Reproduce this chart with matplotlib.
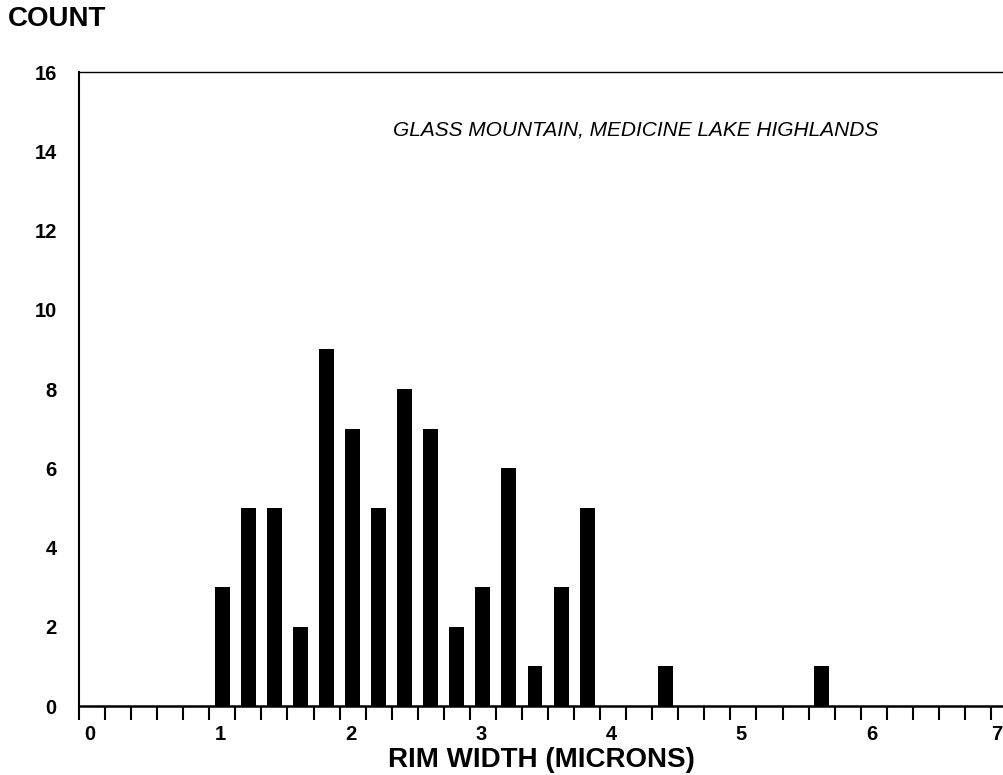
import matplotlib
matplotlib.use("Agg")
import matplotlib.pyplot as plt
import matplotlib.transforms as mtransforms
import numpy as np

# bin centres (microns) and counts
rim_width = [1.1, 1.3, 1.5, 1.7, 1.9, 2.1, 2.3, 2.5, 2.7, 2.9,
             3.1, 3.3, 3.5, 3.7, 3.9, 4.5, 5.7]
counts = [3, 5, 5, 2, 9, 7, 5, 8, 7, 2,
          3, 6, 1, 3, 5, 1, 1]

x_labels = ["0", "1", "2", "3", "4", "5", "6", "7"]
y_ticks = [0, 2, 4, 6, 8, 10, 12, 14, 16]

plt.rcParams['font.family'] = ['Liberation Sans', 'DejaVu Sans']

fig = plt.figure(figsize=(10.04, 7.75), dpi=100)
ax = fig.add_axes([0.0787, 0.089, 0.9213, 0.818])

ax.bar(rim_width, counts, width=0.115, color='black', align='center')

ax.set_xlim(0, 7.1)
ax.set_ylim(0, 16)

ax.set_xticks(range(len(x_labels)))
ax.set_xticklabels(x_labels, fontsize=14.5, fontweight='bold')
ax.set_xticks(np.arange(0, 7.01, 0.2), minor=True)
ax.tick_params(axis='x', which='both', direction='out', length=10, width=1.5, pad=4)

# labels in the scan sit a bit to the right of their ticks
labels = ax.get_xticklabels()
for i, lab in enumerate(labels):
    shift = 11 if i < len(labels) - 1 else 6
    offset = mtransforms.ScaledTranslation(shift / 100, 0, fig.dpi_scale_trans)
    lab.set_transform(lab.get_transform() + offset)

ax.set_yticks(y_ticks)
ax.set_yticklabels([str(v) for v in y_ticks], fontsize=14.5, fontweight='bold')
ax.tick_params(axis='y', length=0, pad=16)

ax.spines['right'].set_visible(False)
ax.spines['left'].set_linewidth(1.5)
ax.spines['bottom'].set_linewidth(1.8)
ax.spines['top'].set_linewidth(1.0)

ax.set_xlabel("RIM WIDTH (MICRONS)", fontsize=20, fontweight='bold', labelpad=2)
fig.text(8 / 1004, 1 - 19 / 775, "COUNT", fontsize=20, fontweight='bold',
         ha='left', va='center')

ax.text(2.41, 14.55, "GLASS MOUNTAIN, MEDICINE LAKE HIGHLANDS",
        fontsize=15, fontstyle='italic', ha='left', va='center')

fig.savefig("out.png", dpi=100, facecolor='white')
